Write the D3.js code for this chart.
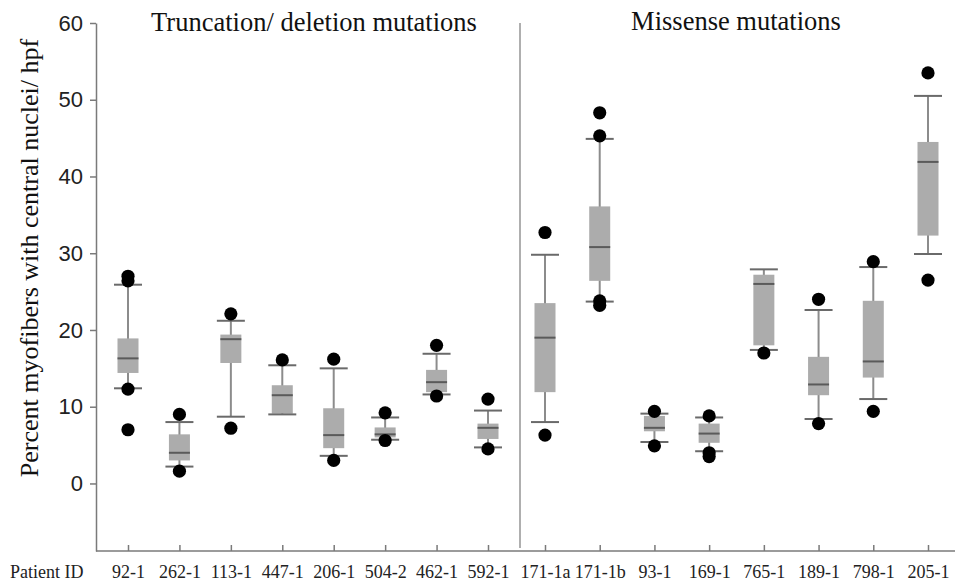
<!DOCTYPE html>
<html>
<head>
<meta charset="utf-8">
<script src="https://cdn.jsdelivr.net/npm/d3@7"></script>
<style>
  html, body { margin: 0; padding: 0; background: #fff; }
  svg { display: block; }
</style>
</head>
<body>
<svg id="chart" width="955" height="585"></svg>
<script>
// ---- data ----
const truncationPatients = ["92-1", "262-1", "113-1", "447-1", "206-1", "504-2", "462-1", "592-1"];
const missensePatients   = ["171-1a", "171-1b", "93-1", "169-1", "765-1", "189-1", "798-1", "205-1"];
const patients = truncationPatients.concat(missensePatients);

const whiskerLow  = [12.4, 2.2, 8.7, 9.0, 3.6, 5.7, 11.6, 4.7,   8.0, 23.7, 5.4, 4.2, 17.4, 8.4, 11.0, 29.9];
const q1Values    = [14.4, 3.0, 15.7, 9.1, 4.6, 6.0, 11.9, 5.8,  11.9, 26.4, 6.8, 5.3, 18.0, 11.5, 13.8, 32.3];
const medians     = [16.3, 4.0, 18.8, 11.5, 6.3, 6.4, 13.2, 7.25, 19.0, 30.8, 7.25, 6.5, 26.0, 12.9, 15.9, 41.9];
const q3Values    = [18.9, 6.4, 19.4, 12.8, 9.8, 7.3, 14.8, 7.8,  23.5, 36.1, 8.8, 7.8, 27.2, 16.5, 23.8, 44.5];
const whiskerHigh = [25.9, 8.0, 21.2, 15.4, 15.0, 8.6, 16.9, 9.5, 29.8, 44.9, 9.1, 8.6, 27.9, 22.6, 28.2, 50.5];
const outliers = [
  [27.0, 26.4, 12.3, 7.0],
  [9.0, 1.6],
  [22.1, 7.2],
  [16.1],
  [16.2, 3.0],
  [9.2, 5.6],
  [18.0, 11.4],
  [11.0, 4.5],
  [32.7, 6.3],
  [48.3, 45.3, 23.8, 23.2],
  [9.4, 4.9],
  [8.8, 4.0, 3.5],
  [17.0],
  [24.0, 7.8],
  [28.9, 9.4],
  [53.5, 26.5]
];
const yTickValues = [0, 10, 20, 30, 40, 50, 60];
const groupTitles = ["Truncation/ deletion mutations", "Missense mutations"];
const yAxisTitle = "Percent myofibers with central nuclei/ hpf";
const xAxisTitle = "Patient ID";

// ---- layout ----
const svg = d3.select("#chart");
const serif = "'Liberation Serif', 'Times New Roman', Times, serif";
const sans = "'Liberation Sans', Arial, Helvetica, sans-serif";
const axisColor = "#7a7a7a";
const axisX = 96, axisBottom = 551, plotRight = 955, dividerX = 520;

const y = d3.scaleLinear().domain([-8.8, 60]).range([axisBottom, 23]);
const xLeft = d3.scalePoint().domain(truncationPatients).range([128, 488]);
const xRight = d3.scalePoint().domain(missensePatients).range([545, 928]);
const x = p => truncationPatients.includes(p) ? xLeft(p) : xRight(p);

// y axis
const yAxis = svg.append("g")
  .attr("transform", `translate(${axisX},0)`)
  .call(d3.axisLeft(y).tickValues(yTickValues).tickSize(6).tickSizeOuter(0).tickPadding(7));
yAxis.select(".domain").attr("stroke", axisColor).attr("stroke-width", 1.5);
yAxis.selectAll(".tick line").attr("stroke", axisColor).attr("stroke-width", 1.5);
yAxis.selectAll(".tick text")
  .style("font-family", sans).style("font-size", "22px").attr("fill", "#222");

// bottom axis line
svg.append("line")
  .attr("x1", axisX).attr("x2", plotRight)
  .attr("y1", axisBottom).attr("y2", axisBottom)
  .attr("stroke", axisColor).attr("stroke-width", 1.5);

// x axes for two groups
[xLeft, xRight].forEach(sc => {
  const g = svg.append("g")
    .attr("transform", `translate(0,${axisBottom})`)
    .call(d3.axisBottom(sc).tickSize(-6).tickSizeOuter(0).tickPadding(14));
  g.select(".domain").remove();
  g.selectAll(".tick line").attr("stroke", axisColor).attr("stroke-width", 1.5);
  g.selectAll(".tick text")
    .style("font-family", serif).style("font-size", "18px").attr("fill", "#222");
});

svg.append("text")
  .attr("x", 10).attr("y", 578)
  .style("font-family", serif).style("font-size", "18px").attr("fill", "#222")
  .text(xAxisTitle);

// divider
svg.append("line")
  .attr("x1", dividerX).attr("x2", dividerX)
  .attr("y1", y(60)).attr("y2", axisBottom - 3)
  .attr("stroke", axisColor).attr("stroke-width", 1.2);

// group titles
svg.append("text")
  .attr("x", 314).attr("y", 31).attr("text-anchor", "middle")
  .style("font-family", serif).style("font-size", "26.5px").attr("fill", "#111")
  .text(groupTitles[0]);
svg.append("text")
  .attr("x", 736).attr("y", 30).attr("text-anchor", "middle")
  .style("font-family", serif).style("font-size", "26.5px").attr("fill", "#111")
  .text(groupTitles[1]);

// y title
svg.append("text")
  .attr("transform", "translate(38,258) rotate(-90)")
  .attr("text-anchor", "middle")
  .style("font-family", serif).style("font-size", "26px").attr("fill", "#111")
  .text(yAxisTitle);

// boxes
const boxW = 21, capW = 28;
const boxes = svg.append("g").selectAll("g")
  .data(patients.map((p, i) => ({
    p, lo: whiskerLow[i], q1: q1Values[i], med: medians[i], q3: q3Values[i],
    hi: whiskerHigh[i], out: outliers[i]
  })))
  .join("g")
  .attr("transform", d => `translate(${x(d.p)},0)`);

boxes.append("line")
  .attr("x1", 0).attr("x2", 0)
  .attr("y1", d => y(d.hi)).attr("y2", d => y(d.lo))
  .attr("stroke", "#8c8c8c").attr("stroke-width", 2);
boxes.append("rect")
  .attr("x", -boxW / 2).attr("width", boxW)
  .attr("y", d => y(d.q3)).attr("height", d => y(d.q1) - y(d.q3))
  .attr("fill", "#acacac");
boxes.append("line")
  .attr("x1", -boxW / 2).attr("x2", boxW / 2)
  .attr("y1", d => y(d.med)).attr("y2", d => y(d.med))
  .attr("stroke", "#5a5a5a").attr("stroke-width", 2);
["hi", "lo"].forEach(k => {
  boxes.append("line")
    .attr("x1", -capW / 2).attr("x2", capW / 2)
    .attr("y1", d => y(d[k])).attr("y2", d => y(d[k]))
    .attr("stroke", "#6a6a6a").attr("stroke-width", 2);
});
boxes.selectAll("circle")
  .data(d => d.out)
  .join("circle")
  .attr("cx", 0).attr("cy", v => y(v)).attr("r", 6.6)
  .attr("fill", "#000");
</script>
</body>
</html>
